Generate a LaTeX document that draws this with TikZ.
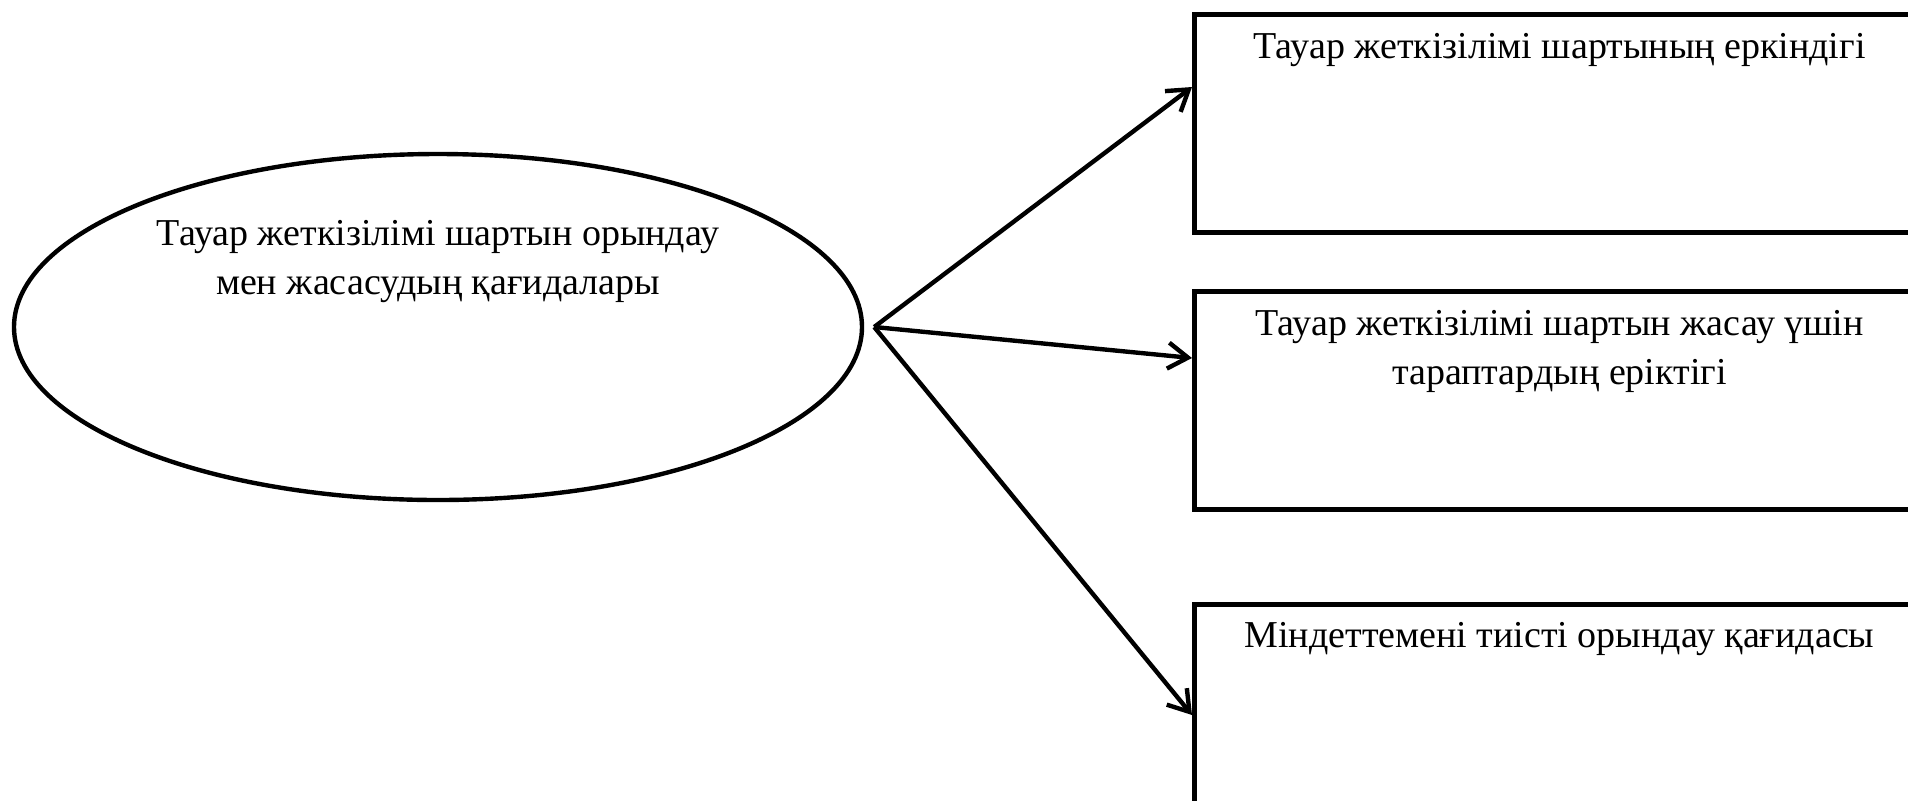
\documentclass[tikz,border=0pt]{standalone}
\usepackage{fontspec}
\setmainfont{Liberation Serif}
\usetikzlibrary{shapes.geometric,arrows.meta,positioning}

\begin{document}
\begin{tikzpicture}[x=0.5pt,y=-0.5pt,
  oval/.style={draw,ellipse,line width=2.2pt,minimum width=424pt,minimum height=173pt,inner sep=0pt},
  rulebox/.style={draw,line width=2.5pt,minimum width=365pt,minimum height=109pt,inner sep=0pt,anchor=north west},
  caption/.style={font=\fontsize{19}{24.5}\selectfont,align=center,inner sep=0pt},
  link/.style={line width=2.2pt,-{Straight Barb[length=10pt,width=13pt]}}]
\clip (0,0) rectangle (1908,800);
% main oval
\node[oval] (rules) at (438,327) {};
\node[caption,below=34pt of rules.north] (rulestext) {Тауар жеткізілімі шартын орындау\\мен жасасудың қағидалары};
% boxes
\node[rulebox] (free) at (1192,12) {};
\node[rulebox] (will) at (1192,289) {};
\node[rulebox] (duty) at (1192,602) {};
\node[caption,below=10.5pt of free.north] (freetext) {Тауар жеткізілімі шартының еркіндігі};
\node[caption,below=10.5pt of will.north] (willtext) {Тауар жеткізілімі шартын жасау үшін\\тараптардың еріктігі};
\node[caption,below=10pt of duty.north] (dutytext) {Міндеттемені тиісті орындау қағидасы};
% arrows
\coordinate[right=5pt of rules.east] (hub);
\draw[link] (hub) -- (free.west |- 0,87);
\draw[link] (hub) -- (will.west |- 0,358);
\draw[link] (hub) -- (duty.west |- 0,715);
\end{tikzpicture}
\end{document}
